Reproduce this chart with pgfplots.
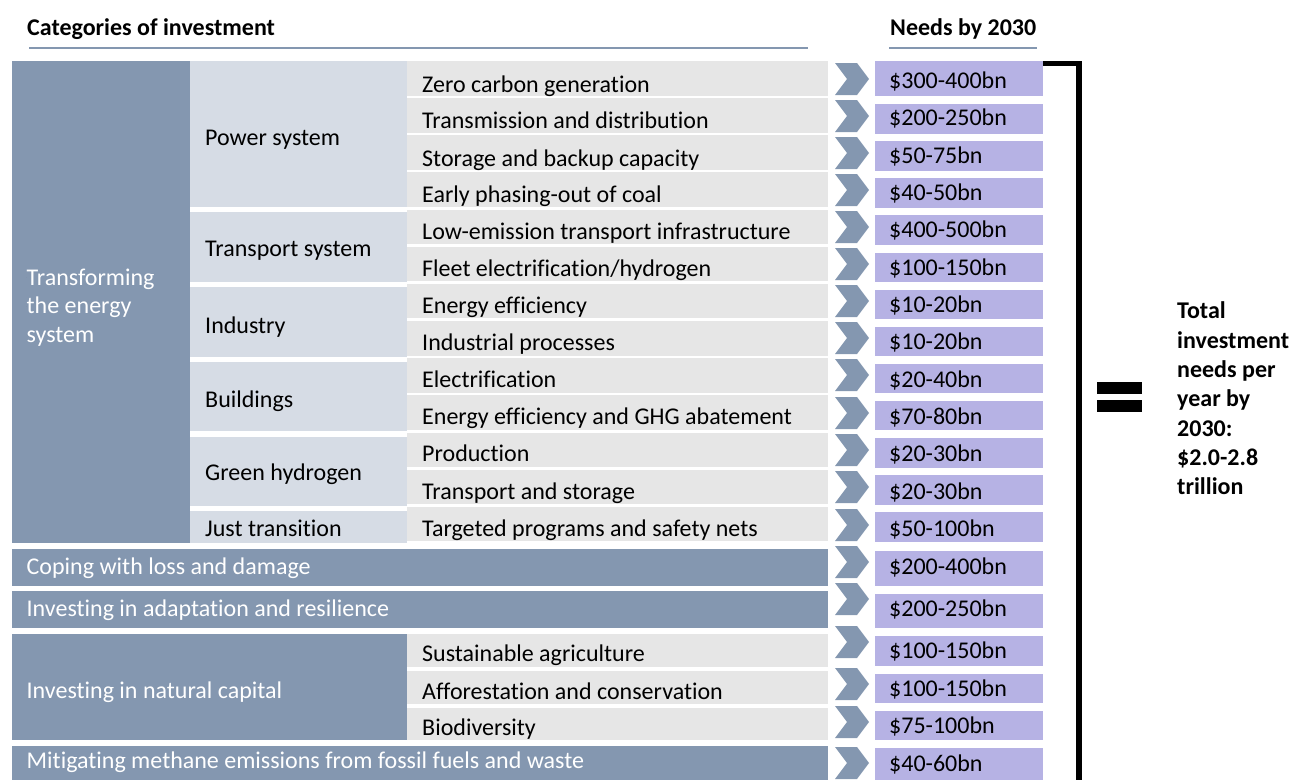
\documentclass[border=0pt]{standalone}
\usepackage{fontspec}
\setmainfont{Carlito}[Ligatures={NoCommon}]
\usepackage{pgfplots}
\usepackage{pgfplotstable}
\pgfplotsset{compat=1.18}

\definecolor{cDark}{HTML}{8497B0}
\definecolor{cSub}{HTML}{D6DCE5}
\definecolor{cRow}{HTML}{E6E6E6}
\definecolor{cNeed}{HTML}{B6B2E4}

% right-pointing chevron, sized in pt (1 axis unit = 1pt here)
\pgfdeclareplotmark{chevron}{%
  \pgfpathmoveto{\pgfpoint{-17pt}{16pt}}%
  \pgfpathlineto{\pgfpoint{5pt}{16pt}}%
  \pgfpathlineto{\pgfpoint{17pt}{0pt}}%
  \pgfpathlineto{\pgfpoint{5pt}{-16pt}}%
  \pgfpathlineto{\pgfpoint{-17pt}{-16pt}}%
  \pgfpathlineto{\pgfpoint{-5pt}{0pt}}%
  \pgfpathclose
  \pgfusepathqfill}

% column 3: investment items
\pgfplotstableread[col sep=comma]{
y,label
84.5,Zero carbon generation
121,Transmission and distribution
158.5,Storage and backup capacity
195,Early phasing-out of coal
231.7,Low-emission transport infrastructure
268.8,Fleet electrification/hydrogen
306,Energy efficiency
342.5,Industrial processes
380,Electrification
417,Energy efficiency and GHG abatement
454,Production
491.5,Transport and storage
529,Targeted programs and safety nets
654,Sustainable agriculture
691.5,Afforestation and conservation
727.5,Biodiversity
}\items

% needs by 2030 (y = text centre, cy = chevron centre)
\pgfplotstableread[col sep=comma]{
y,cy,label
81,79,\$300-400bn
118.3,116,\$200-250bn
155.7,153,\$50-75bn
193,190,\$40-50bn
230.3,227,\$400-500bn
267.7,264,\$100-150bn
305,301,\$10-20bn
342.3,338,\$10-20bn
379.7,375,\$20-40bn
417,413,\$70-80bn
454.3,450,\$20-30bn
491.7,487,\$20-30bn
529,525,\$50-100bn
566.7,562,\$200-400bn
609,599,\$200-250bn
651,642,\$100-150bn
689,684,\$100-150bn
725.8,722,\$75-100bn
764,763,\$40-60bn
}\needs

% column 2: sub-categories
\pgfplotstableread[col sep=comma]{
y,label
138,Power system
249,Transport system
325.8,Industry
400,Buildings
473,Green hydrogen
529,Just transition
}\subcats

% column 1: main categories (white text)
\pgfplotstableread[col sep=comma]{
y,label
277.7,Transforming
306.3,the energy
334.5,system
566.5,Coping with loss and damage
609,Investing in adaptation and resilience
690.5,Investing in natural capital
761,Mitigating methane emissions from fossil fuels and waste
}\maincats

% total on the right
\pgfplotstableread[col sep=comma]{
y,label
311,Total
340.5,investment
370,needs per
399,year by
428.5,2030:
458,\$2.0-2.8
487,trillion
}\total

\begin{document}
\begin{tikzpicture}
\begin{axis}[
  width=1293pt, height=780pt, scale only axis,
  xmin=0, xmax=1293, ymin=0, ymax=780, y dir=reverse,
  hide axis, clip=false,
  txt/.style={only marks, mark=*, mark size=0pt,
    mark options={draw=none, fill=none},
    point meta=explicit symbolic, nodes near coords,
    nodes near coords style={anchor=west, inner sep=0pt,
      text height=15.2pt, text depth=0pt,
      font=\fontsize{24}{29}\selectfont, text=black}},
]
\path (0,0) rectangle (1293,780);

% headers
\node[anchor=west, inner sep=0pt, text height=15.2pt, text depth=0pt,
  font=\bfseries\fontsize{24}{29}\selectfont] at (27,28) {Categories of investment};
\node[anchor=west, inner sep=0pt, text height=15.2pt, text depth=0pt,
  font=\bfseries\fontsize{24}{29}\selectfont] at (890,28) {Needs by 2030};
\draw[cDark, line width=2.5pt] (29,48) -- (808,48);
\draw[cDark, line width=2.5pt] (889,48) -- (1037,48);

% column 1 blocks
\fill[cDark] (12,61) rectangle (190,543);
\fill[cDark] (12,549) rectangle (828,586);
\fill[cDark] (12,591) rectangle (828,628);
\fill[cDark] (12,634) rectangle (407,740);
\fill[cDark] (12,746) rectangle (828,780);

% column 2 blocks
\fill[cSub] (190,61) rectangle (407,207);
\fill[cSub] (190,212) rectangle (407,281.7);
\fill[cSub] (190,286.7) rectangle (407,356.7);
\fill[cSub] (190,361.7) rectangle (407,431);
\fill[cSub] (190,436.7) rectangle (407,505.7);
\fill[cSub] (190,511) rectangle (407,543);

% column 3 rows
\pgfplotsinvokeforeach{0,...,12}{
  \fill[cRow] (407,{61+37.15*#1}) rectangle (828,{95.5+37.15*#1});
}
\fill[cRow] (407,634) rectangle (828,667);
\fill[cRow] (407,671) rectangle (828,704);
\fill[cRow] (407,708) rectangle (828,740);

% needs boxes
\fill[cNeed] (875,61) rectangle (1043,96);
\pgfplotsinvokeforeach{1,...,12}{
  \fill[cNeed] (875,{67+37.1*#1}) rectangle (1043,{96.5+37.1*#1});
}
\fill[cNeed] (875,551) rectangle (1043,586);
\fill[cNeed] (875,594) rectangle (1043,628);
\fill[cNeed] (875,636) rectangle (1043,666);
\fill[cNeed] (875,674) rectangle (1043,703);
\fill[cNeed] (875,711) rectangle (1043,740);
\fill[cNeed] (875,748) rectangle (1043,780);

% chevrons
\addplot[only marks, mark=chevron, color=cDark] table[x expr=852, y=cy] {\needs};

% texts
\addplot[txt] table[x expr=422, y=y, meta=label] {\items};
\addplot[txt] table[x expr=889, y=y, meta=label] {\needs};
\addplot[txt] table[x expr=205, y=y, meta=label] {\subcats};
\addplot[txt, nodes near coords style={text=white}] table[x expr=26.5, y=y, meta=label] {\maincats};
\addplot[txt, nodes near coords style={font=\bfseries\fontsize{24}{29}\selectfont}]
  table[x expr=1177, y=y, meta=label] {\total};

% bracket and equals sign
\draw[line width=5.5pt, line join=miter] (1043,63.5) -- (1079,63.5) -- (1079,780);
\fill (1097,382) rectangle (1142,394);
\fill (1097,400) rectangle (1142,412);
\end{axis}
\end{tikzpicture}
\end{document}
